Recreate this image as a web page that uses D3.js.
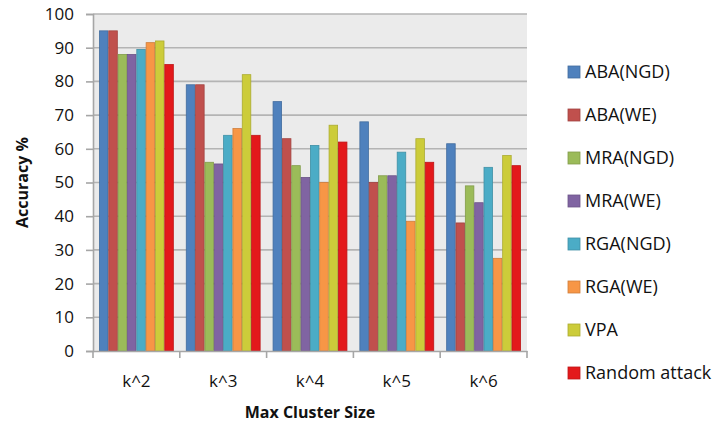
<!DOCTYPE html>
<html>
<head>
<meta charset="utf-8">
<script src="https://cdn.jsdelivr.net/npm/d3@7"></script>
<style>
  html, body { margin: 0; padding: 0; background: #ffffff; }
  svg { display: block; }
  text { font-family: "Open Sans", "Liberation Sans", sans-serif; fill: #111111; }
</style>
</head>
<body>
<svg id="chart" width="716" height="425"></svg>
<script>
// Categories (max cluster size) and series
const categories = ["k^2", "k^3", "k^4", "k^5", "k^6"];
const seriesNames = ["ABA(NGD)", "ABA(WE)", "MRA(NGD)", "MRA(WE)", "RGA(NGD)", "RGA(WE)", "VPA", "Random attack"];
const seriesColors = ["#4f81bd", "#c0504d", "#9bbb59", "#8064a2", "#4bacc6", "#f79646", "#cccc3a", "#e3191b"];

// Accuracy % per series, one value per category
const abaNgd    = [95, 79, 74, 68, 61.5];
const abaWe     = [95, 79, 63, 50, 38];
const mraNgd    = [88, 56, 55, 52, 49];
const mraWe     = [88, 55.5, 51.5, 52, 44];
const rgaNgd    = [89.5, 64, 61, 59, 54.5];
const rgaWe     = [91.5, 66, 50, 38.5, 27.5];
const vpa       = [92, 82, 67, 63, 58];
const randomAtk = [85, 64, 62, 56, 55];
const seriesValues = [abaNgd, abaWe, mraNgd, mraWe, rgaNgd, rgaWe, vpa, randomAtk];

const yTicks = [0, 10, 20, 30, 40, 50, 60, 70, 80, 90, 100];

const svg = d3.select("#chart");
const plot = { left: 93, right: 527, top: 14, bottom: 351 };

const x0 = d3.scaleBand().domain(categories).range([plot.left, plot.right]).paddingInner(0).paddingOuter(0);
const x1 = d3.scaleBand().domain(seriesNames).range([0, x0.bandwidth()]).paddingOuter(0.65).paddingInner(0);
const y = d3.scaleLinear().domain([0, 100]).range([plot.bottom, plot.top]);

// Plot background
svg.append("rect")
  .attr("x", plot.left).attr("y", plot.top)
  .attr("width", plot.right - plot.left).attr("height", plot.bottom - plot.top)
  .attr("fill", "#ebebeb");

// Horizontal gridlines
svg.append("g").selectAll("line").data(yTicks.filter(d => d > 0)).join("line")
  .attr("x1", plot.left).attr("x2", plot.right)
  .attr("y1", d => y(d)).attr("y2", d => y(d))
  .attr("stroke", "#b4b4b4").attr("stroke-width", 1.6);

// Bars
const groups = svg.append("g").selectAll("g").data(categories).join("g")
  .attr("transform", c => `translate(${x0(c)},0)`);

groups.selectAll("rect")
  .data((c, ci) => seriesNames.map((s, si) => ({ s, si, v: seriesValues[si][ci] })))
  .join("rect")
  .attr("x", d => x1(d.s) + 0.4)
  .attr("y", d => y(d.v))
  .attr("width", x1.bandwidth() - 0.8)
  .attr("height", d => y(0) - y(d.v))
  .attr("fill", d => seriesColors[d.si])
  .attr("stroke", d => d3.color(seriesColors[d.si]).darker(0.5))
  .attr("stroke-width", 0.8);

// Y axis
const yAxis = d3.axisLeft(y).tickValues(yTicks).tickSize(7).tickPadding(12);
const gy = svg.append("g").attr("transform", `translate(${plot.left},0)`).call(yAxis);
gy.select(".domain").attr("stroke", "#a6a6a6").attr("stroke-width", 1.6);
gy.selectAll(".tick line").attr("stroke", "#a6a6a6").attr("stroke-width", 1.6);
gy.selectAll(".tick text").style("font-size", "17px").style("font-family", "'Open Sans', sans-serif").attr("fill", "#111111");

// X axis
const xAxis = d3.axisBottom(x0).tickSize(0).tickPadding(24);
const gx = svg.append("g").attr("transform", `translate(0,${plot.bottom})`).call(xAxis);
gx.select(".domain").attr("stroke", "#a6a6a6").attr("stroke-width", 1.6);
gx.selectAll(".tick text").style("font-size", "17px").style("font-family", "'Open Sans', sans-serif").attr("fill", "#111111");
// Category separators on the x axis
svg.append("g").selectAll("line").data(d3.range(categories.length + 1)).join("line")
  .attr("x1", i => plot.left + i * x0.bandwidth()).attr("x2", i => plot.left + i * x0.bandwidth())
  .attr("y1", plot.bottom).attr("y2", plot.bottom + 7)
  .attr("stroke", "#a6a6a6").attr("stroke-width", 1.6);

// Axis titles
svg.append("text")
  .attr("x", (plot.left + plot.right) / 2).attr("y", 418)
  .attr("text-anchor", "middle")
  .style("font-size", "16px").style("font-weight", "bold")
  .text("Max Cluster Size");

svg.append("text")
  .attr("transform", `translate(28,${(plot.top + plot.bottom) / 2}) rotate(-90)`)
  .attr("text-anchor", "middle")
  .style("font-size", "16px").style("font-weight", "bold")
  .text("Accuracy %");

// Legend
const legend = svg.append("g").selectAll("g").data(seriesNames).join("g")
  .attr("transform", (d, i) => `translate(568,${72 + i * 43})`);
legend.append("rect")
  .attr("x", 0).attr("y", -6).attr("width", 12).attr("height", 12)
  .attr("fill", (d, i) => seriesColors[i])
  .attr("stroke", (d, i) => d3.color(seriesColors[i]).darker(0.5))
  .attr("stroke-width", 0.8);
legend.append("text")
  .attr("x", 17).attr("y", 0).attr("dy", "0.36em")
  .style("font-size", "18px")
  .text(d => d);
</script>
</body>
</html>
